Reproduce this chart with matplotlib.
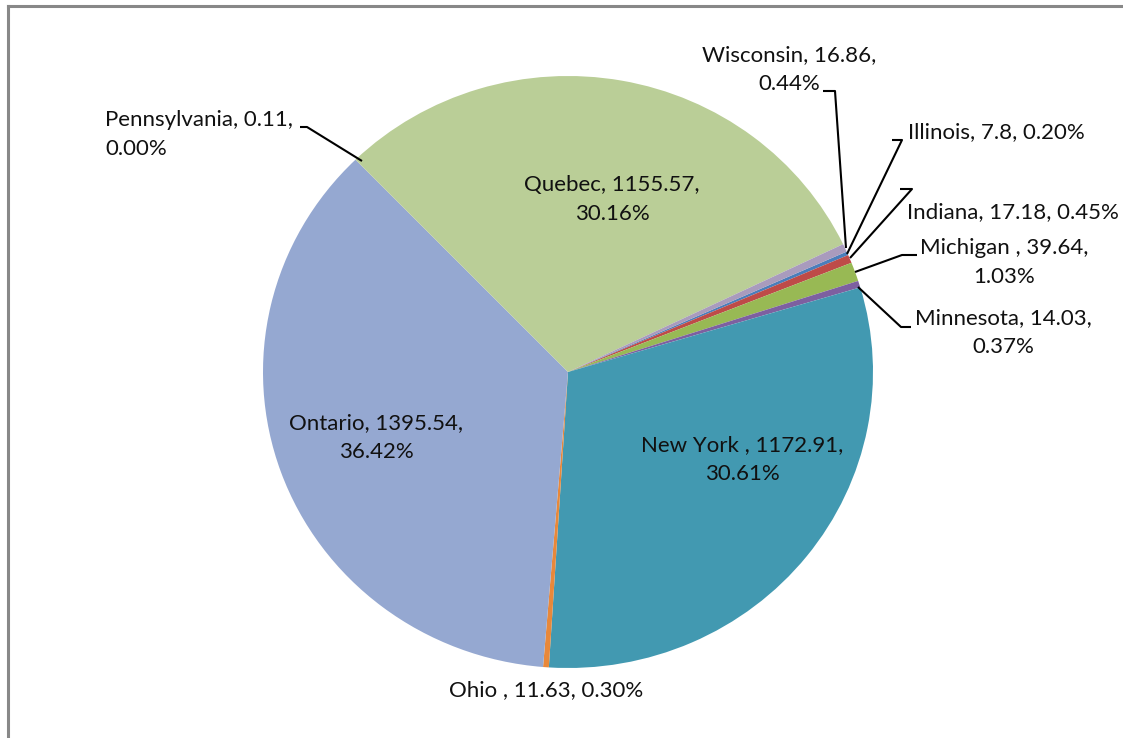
import matplotlib
matplotlib.use("Agg")
import matplotlib.pyplot as plt
from matplotlib.lines import Line2D

W, H = 1123, 738

states = ['Illinois', 'Indiana', 'Michigan', 'Minnesota', 'New York', 'Ohio',
          'Ontario', 'Pennsylvania', 'Quebec', 'Wisconsin']
values = [7.8, 17.18, 39.64, 14.03, 1172.91, 11.63, 1395.54, 0.11, 1155.57, 16.86]
colors = ['#4A7EBB', '#BE4B48', '#98B954', '#7D60A0', '#4299B1', '#E8883A',
          '#95A8D1', '#D99694', '#BACE97', '#A99BBD']

# pie geometry in image pixels (Excel stretched the circle a bit)
cx, cy, rx, ry = 568, 372, 305, 296

plt.rcParams['font.family'] = ['Lato', 'DejaVu Sans']
fig = plt.figure(figsize=(W / 100, H / 100), dpi=100)
ax = fig.add_axes([0, 0, 1, 1])
ax.pie(values, colors=colors, startangle=24, counterclock=False,
       wedgeprops={'linewidth': 0})
ax.set_aspect('auto')
ax.set_xlim(-cx / rx, (W - cx) / rx)
ax.set_ylim((cy - H) / ry, cy / ry)
ax.axis('off')


def px(x, y):
    return (x - cx) / rx, (cy - y) / ry


total = sum(values)
text = {}
for s, v in zip(states, values):
    text[s] = '{}, {}, {:.2f}%'.format(s, v, v / total * 100)
text['New York'] = text['New York'].replace('New York,', 'New York ,')
text['Michigan'] = text['Michigan'].replace('Michigan,', 'Michigan ,')
text['Ohio'] = text['Ohio'].replace('Ohio,', 'Ohio ,')


def split2(s):
    # first two fields on line one, percent on line two
    i = s.rfind(', ')
    return [s[:i + 1], s[i + 2:]]


# label layout: (x, first line y, alignment, split into two lines?)
layout = {
    'Quebec': (612, 185, 'center', True),
    'Ontario': (376, 423, 'center', True),
    'New York': (742, 445, 'center', True),
    'Ohio': (546, 690, 'center', False),
    'Pennsylvania': (105, 120, 'left', True),
    'Wisconsin': (789, 55, 'center', True),
    'Illinois': (908, 132, 'left', False),
    'Indiana': (1119, 212, 'right', False),
    'Michigan': (1004, 248, 'center', True),
    'Minnesota': (1003, 318, 'center', True),
}

for s, (x, y, ha, two) in layout.items():
    lines = split2(text[s]) if two else [text[s]]
    for k, ln in enumerate(lines):
        ax.text(*px(x, y + 29 * k), ln, ha=ha, va='center', fontsize=16,
                color='#111111')

leaders = {
    'Pennsylvania': [(300, 127), (307, 127), (362, 161)],
    'Wisconsin': [(823, 91), (835, 91), (846, 248)],
    'Illinois': [(892, 140), (902, 140), (847, 254)],
    'Indiana': [(900, 189), (912, 189), (850, 258)],
    'Michigan': [(917, 255), (902, 255), (855, 272)],
    'Minnesota': [(858, 287), (901, 327), (911, 327)],
}
for s, pts in leaders.items():
    xy = [px(a, b) for a, b in pts]
    ax.plot([p[0] for p in xy], [p[1] for p in xy], color='black', lw=1.5,
            solid_capstyle='butt')

# chart border (only top and left visible in the crop)
fig.add_artist(Line2D([7.5 / W, 1], [1 - 6 / H, 1 - 6 / H], color='#888888', lw=2.2))
fig.add_artist(Line2D([7.5 / W, 7.5 / W], [0, 1 - 6 / H], color='#888888', lw=2.2))

fig.savefig('out.png', dpi=100)
